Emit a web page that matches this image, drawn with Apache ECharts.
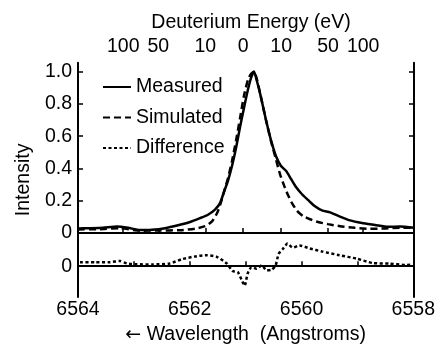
<!DOCTYPE html>
<html>
<head>
<meta charset="utf-8">
<script src="https://cdn.jsdelivr.net/npm/echarts@6/dist/echarts.min.js"></script>
<style>
  html, body { margin: 0; padding: 0; background: #fff; }
  #chart { width: 438px; height: 350px; }
</style>
</head>
<body>
<div id="chart"></div>
<script>
// Balmer-alpha line profile: measured vs simulated, plus their difference
const measuredWl = [6564.0, 6563.786, 6563.554, 6563.304, 6563.107, 6562.893, 6562.679, 6562.446, 6562.214, 6562.0,
  6561.821, 6561.679, 6561.554, 6561.464, 6561.393, 6561.321, 6561.25, 6561.179, 6561.107, 6561.036,
  6560.964, 6560.911, 6560.857, 6560.804, 6560.732, 6560.643, 6560.554, 6560.464, 6560.375, 6560.286,
  6560.196, 6560.107, 6560.0, 6559.893, 6559.768, 6559.643, 6559.5, 6559.321, 6559.143, 6558.929,
  6558.696, 6558.464, 6558.25, 6558.0];
const measuredI = [0.028, 0.03, 0.033, 0.04, 0.032, 0.018, 0.02, 0.03, 0.048, 0.068,
  0.092, 0.113, 0.145, 0.185, 0.255, 0.325, 0.415, 0.525, 0.655, 0.775,
  0.89, 0.96, 1.0, 0.94, 0.84, 0.70, 0.575, 0.475, 0.415, 0.385,
  0.335, 0.285, 0.24, 0.205, 0.165, 0.14, 0.128, 0.102, 0.078, 0.062,
  0.05, 0.038, 0.04, 0.032];

const simulatedWl = [6564.0, 6563.607, 6563.25, 6562.893, 6562.536, 6562.179, 6561.911, 6561.732, 6561.607, 6561.518,
  6561.464, 6561.393, 6561.321, 6561.25, 6561.179, 6561.107, 6561.036, 6560.964, 6560.911, 6560.857,
  6560.804, 6560.732, 6560.643, 6560.554, 6560.464, 6560.393, 6560.321, 6560.25, 6560.179, 6560.089,
  6559.982, 6559.857, 6559.714, 6559.536, 6559.321, 6559.054, 6558.786, 6558.518, 6558.25, 6558.0];
const simulatedI = [0.022, 0.024, 0.03, 0.014, 0.016, 0.017, 0.027, 0.042, 0.072, 0.122,
  0.172, 0.255, 0.34, 0.445, 0.57, 0.71, 0.85, 0.95, 0.985, 1.0,
  0.95, 0.84, 0.70, 0.57, 0.455, 0.365, 0.295, 0.235, 0.185, 0.138,
  0.105, 0.085, 0.068, 0.055, 0.042, 0.032, 0.026, 0.028, 0.033, 0.032];

const diffWl = [6563.964, 6563.696, 6563.429, 6563.25, 6563.125, 6562.946, 6562.661, 6562.357, 6562.125, 6561.875,
  6561.696, 6561.518, 6561.339, 6561.232, 6561.143, 6561.071, 6561.018, 6560.964, 6560.893, 6560.804,
  6560.714, 6560.625, 6560.536, 6560.464, 6560.411, 6560.339, 6560.25, 6560.161, 6560.036, 6559.857,
  6559.625, 6559.321, 6559.018, 6558.732, 6558.429, 6558.125, 6558.018];
const diffVal = [0.025, 0.024, 0.025, 0.032, 0.017, 0.012, 0.011, 0.017, 0.045, 0.062,
  0.068, 0.058, 0.017, -0.03, -0.035, -0.085, -0.12, -0.045, -0.005, -0.015,
  0.005, -0.025, -0.022, 0.005, 0.075, 0.105, 0.14, 0.115, 0.128, 0.11,
  0.09, 0.068, 0.047, 0.02, 0.016, 0.008, 0.01];

// Top axis: deuterium kinetic energy, placed by Doppler shift of the line centre
const energyLabels = [100, 50, 10, 0, 10, 50, 100];
const energySide = [1, 1, 1, 0, -1, -1, -1];   // +1 red-shifted, -1 blue-shifted
const LAMBDA0 = 6561.05;
const D_REST_EV = 1.8756e9;
const energyPos = energyLabels.map((e, i) => LAMBDA0 + energySide[i] * LAMBDA0 * Math.sqrt(2 * e / D_REST_EV));

const wlTickLabels = [6564, 6562, 6560, 6558];
const intensityTicks = [0, 0.2, 0.4, 0.6, 0.8, 1.0];

const zip = (a, b) => a.map((v, i) => [v, b[i]]);

const FONT = 'Liberation Sans, Arial, Helvetica, sans-serif';
const INK = '#000';
const FS = 19.5;
const txt = { color: INK, fontFamily: FONT, fontSize: FS };
const frame = { show: true, lineStyle: { color: INK, width: 2 } };
const WL_MIN = 6558, WL_MAX = 6564;

const chart = echarts.init(document.getElementById('chart'), null, { renderer: 'canvas' });
chart.setOption({
  animation: false,
  backgroundColor: '#fff',
  textStyle: { fontFamily: FONT },
  grid: [
    { left: 78, top: 62.7, width: 336, height: 170.3 },
    { left: 78, top: 233, width: 336, height: 64 },
    { left: 78, top: 62.7, width: 336, height: 234.3 }
  ],
  legend: {
    orient: 'vertical',
    left: 102, top: 77, padding: 0,
    itemWidth: 28, itemHeight: 14, itemGap: 10.5,
    itemStyle: { opacity: 0 },
    textStyle: txt,
    data: ['Measured', 'Simulated', 'Difference']
  },
  xAxis: [
    { gridIndex: 0, type: 'value', min: WL_MIN, max: WL_MAX, inverse: true, position: 'bottom',
      axisLine: { show: true, lineStyle: { color: INK, width: 1 } },
      axisTick: { show: false }, axisLabel: { show: false }, splitLine: { show: false } },
    { gridIndex: 0, type: 'value', min: WL_MIN, max: WL_MAX, inverse: true, position: 'top',
      axisLine: frame,
      axisTick: { show: true, inside: false, length: 5, customValues: energyPos, lineStyle: { color: INK, width: 1.5 } },
      axisLabel: { show: true, customValues: energyPos, margin: 6, ...txt,
        formatter: v => {
          let best = 0;
          energyPos.forEach((p, i) => { if (Math.abs(p - v) < Math.abs(energyPos[best] - v)) best = i; });
          return String(energyLabels[best]);
        } },
      splitLine: { show: false },
      name: 'Deuterium Energy (eV)', nameLocation: 'middle', nameGap: 30,
      nameTextStyle: { ...txt, padding: [0, 0, 0, 10] } },
    { gridIndex: 1, type: 'value', min: WL_MIN, max: WL_MAX, interval: 1, inverse: true, position: 'bottom',
      axisLine: frame,
      axisTick: { show: true, inside: true, length: 5, lineStyle: { color: INK, width: 1.5 } },
      axisLabel: { show: true, customValues: wlTickLabels, margin: 3, ...txt, formatter: v => String(v) },
      splitLine: { show: false },
      name: '{arr|\u2190} Wavelength  (Angstroms)', nameLocation: 'middle', nameGap: 28,
      nameTextStyle: { ...txt, rich: { arr: { color: INK, fontFamily: 'DejaVu Sans', fontSize: 19 } } } },
    { gridIndex: 2, type: 'value', min: WL_MIN, max: WL_MAX, show: false }
  ],
  yAxis: [
    { gridIndex: 0, type: 'value', min: 0, max: 1.055, position: 'left',
      axisLine: frame,
      axisTick: { show: true, inside: true, length: 5, customValues: intensityTicks, lineStyle: { color: INK, width: 1.5 } },
      axisLabel: { show: true, customValues: intensityTicks, margin: 6, ...txt,
        formatter: v => (v === 0 ? '0' : v.toFixed(1)) },
      splitLine: { show: false } },
    { gridIndex: 0, type: 'value', min: 0, max: 1.055, position: 'right',
      axisLine: frame,
      axisTick: { show: true, inside: true, length: 5, customValues: intensityTicks, lineStyle: { color: INK, width: 1.5 } },
      axisLabel: { show: false }, splitLine: { show: false } },
    { gridIndex: 1, type: 'value', min: -0.19, max: 0.205, position: 'left',
      axisLine: frame,
      axisTick: { show: false },
      axisLabel: { show: true, customValues: [0], margin: 6, ...txt, formatter: () => '0' },
      splitLine: { show: false } },
    { gridIndex: 1, type: 'value', min: -0.19, max: 0.205, position: 'right',
      axisLine: frame,
      axisTick: { show: true, inside: true, length: 5, customValues: [0], lineStyle: { color: INK, width: 1.5 } },
      axisLabel: { show: false }, splitLine: { show: false } },
    { gridIndex: 2, type: 'value', min: 0, max: 1, position: 'left',
      axisLine: { show: false }, axisTick: { show: false }, axisLabel: { show: false }, splitLine: { show: false },
      name: 'Intensity', nameLocation: 'middle', nameGap: 44, nameTextStyle: txt }
  ],
  series: [
    { name: 'Measured', type: 'line', xAxisIndex: 0, yAxisIndex: 0,
      data: zip(measuredWl, measuredI), symbol: 'none', smooth: 0.2,
      lineStyle: { color: INK, width: 2.5, type: 'solid' }, itemStyle: { color: INK } },
    { name: 'Simulated', type: 'line', xAxisIndex: 0, yAxisIndex: 0,
      data: zip(simulatedWl, simulatedI), symbol: 'none', smooth: 0.2,
      lineStyle: { color: INK, width: 2.5, type: [7, 4] }, itemStyle: { color: INK } },
    { name: 'Difference', type: 'line', xAxisIndex: 2, yAxisIndex: 2,
      data: zip(diffWl, diffVal), symbol: 'none', smooth: 0.2,
      lineStyle: { color: INK, width: 2.5, type: [3, 2.5] }, itemStyle: { color: INK },
      markLine: { silent: true, symbol: 'none', label: { show: false },
        lineStyle: { color: INK, width: 1, type: 'solid' }, data: [{ yAxis: 0 }] } }
  ]
});
</script>
</body>
</html>
